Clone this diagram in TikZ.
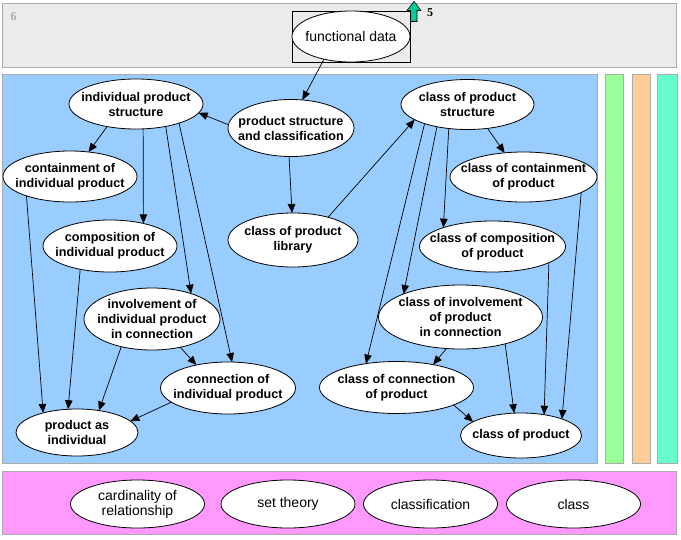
\documentclass[tikz,border=0pt]{standalone}
\usepackage{fontspec}
\setmainfont{Liberation Sans}
\newfontfamily\numfont{Liberation Serif}
\usetikzlibrary{shapes.geometric,arrows.meta}
\definecolor{bandgray}{HTML}{EBEBEB}
\definecolor{bordgray}{HTML}{ABABAB}
\definecolor{areablue}{HTML}{99CCFF}
\definecolor{bargreen}{HTML}{99FF99}
\definecolor{barorange}{HTML}{FFCC99}
\definecolor{barteal}{HTML}{66FFCC}
\definecolor{bandpink}{HTML}{FF99FF}
\definecolor{arrowgreen}{HTML}{00CC99}
\begin{document}
\begin{tikzpicture}[x=1pt,y=-1pt,
  band/.style={draw=bordgray, line width=1pt},
  ell/.style={ellipse, draw=black, fill=white, line width=0.8pt, inner sep=0pt, outer sep=0pt},
  mt/.style={font=\fontsize{12.6}{15}\selectfont\bfseries, align=center, inner sep=0pt},
  lt/.style={font=\fontsize{14}{15}\selectfont, align=center, inner sep=0pt},
  num/.style={font=\numfont\bfseries\fontsize{12}{14}\selectfont, inner sep=0pt},
  edge/.style={draw=black, line width=0.7pt, -{Triangle[length=9pt,width=7.5pt]}}]
\useasboundingbox (0,0) rectangle (681,539);
% bands
\path[band, fill=bandgray] (2.5,3.5) rectangle (676.5,67.5);
\path[band, fill=areablue] (2.5,74.5) rectangle (597.5,463.5);
\path[band, fill=bargreen] (605.5,74.5) rectangle (623.5,463.5);
\path[band, fill=barorange] (632.5,74.5) rectangle (650.5,463.5);
\path[band, fill=barteal] (657.5,74.5) rectangle (677.5,463.5);
\path[band, fill=bandpink] (2.5,471.5) rectangle (676.5,534.5);
% band numbers
\node[num, text=bordgray] (n6) at (13.5,16.5) {6};
\node[num] (n5) at (430,12.5) {5};
\draw[fill=arrowgreen, line width=0.6pt] (414,1.5) -- (421,10.5) -- (417,10.5) -- (417,21.5) -- (410.5,21.5) -- (410.5,10.5) -- (407,10.5) -- cycle;
% functional data
\node[draw=black, line width=0.8pt, minimum width=118pt, minimum height=51pt, inner sep=0pt] (fdbox) at (351,36.5) {};
\node[ell, minimum width=118pt, minimum height=51pt, label={[lt]center:functional data}] (fd) at (351,36.5) {};
% left group
\node[ell, minimum width=134pt, minimum height=50pt, label={[mt]center:{individual product\\structure}}] (ips) at (136,104) {};
\node[ell, minimum width=126pt, minimum height=57pt, label={[mt]center:{product structure\\and classification}}] (psc) at (291,128) {};
\node[ell, minimum width=134pt, minimum height=51pt, label={[mt]center:{containment of\\individual product}}] (cont) at (70,176.5) {};
\node[ell, minimum width=134pt, minimum height=52pt, label={[mt]center:{composition of\\individual product}}] (comp) at (110,246) {};
\node[ell, minimum width=130pt, minimum height=54pt, label={[mt]center:{class of product\\library}}] (clp) at (293,240) {};
\node[ell, minimum width=136pt, minimum height=62pt, label={[mt]center:{involvement of\\individual product\\in connection}}] (inv) at (152,319) {};
\node[ell, minimum width=135pt, minimum height=52pt, label={[mt]center:{connection of\\individual product}}] (conn) at (228,388) {};
\node[ell, minimum width=122pt, minimum height=47pt, label={[mt]center:{product as\\individual}}] (pai) at (77,432.5) {};
% right group
\node[ell, minimum width=133pt, minimum height=50pt, label={[mt]center:{class of product\\structure}}] (cps) at (467.5,104.5) {};
\node[ell, minimum width=147pt, minimum height=50pt, label={[mt]center:{class of containment\\of product}}] (ccont) at (523.5,177) {};
\node[ell, minimum width=146pt, minimum height=51pt, label={[mt]center:{class of composition\\of product}}] (ccomp) at (492.5,246.5) {};
\node[ell, minimum width=164pt, minimum height=64pt, label={[mt]center:{class of involvement\\of product\\in connection}}] (cinv) at (460.5,317) {};
\node[ell, minimum width=154pt, minimum height=52pt, label={[mt]center:{class of connection\\of product}}] (cconn) at (396.5,387.5) {};
\node[ell, minimum width=121pt, minimum height=45pt, label={[mt]center:{class of product}}] (cp) at (521,435.5) {};
% bottom band
\node[ell, minimum width=134pt, minimum height=48pt, label={[lt]center:{cardinality of\\relationship}}] (card) at (137.5,504) {};
\node[ell, minimum width=134pt, minimum height=48pt, label={[lt]center:{set theory}}] (sett) at (288,504) {};
\node[ell, minimum width=134pt, minimum height=48pt, label={[lt]center:{classification}}] (clsf) at (430.5,504) {};
\node[ell, minimum width=134pt, minimum height=48pt, label={[lt]center:{class}}] (cls) at (573.5,504) {};
% edges
\draw[edge] (fd.-140) -- (psc.68);
\draw[edge] (psc.177) -- (ips.-8);
\draw[edge] (psc.-94) -- (clp.92);
\draw[edge] (clp.33) -- (cps.-164);
\draw[edge] (ips.-142) -- (cont.53);
\draw[edge] (ips.-74) -- (comp.34);
\draw[edge] (ips.-37) -- (inv.33);
\draw[edge] (ips.-24.5) -- (conn.81.6);
\draw[edge] (cont.-156.6) -- (pai.150);
\draw[edge] (comp.-142) -- (pai.111);
\draw[edge] (inv.-138) -- (pai.45.6);
\draw[edge] (inv.-45) -- (conn.144.5);
\draw[edge] (conn.-166) -- (pai.12);
\draw[edge] (cps.-50) -- (ccont.128);
\draw[edge] (cps.-128.5) -- (ccomp.159);
\draw[edge] (cps.-144) -- (cinv.158.5);
\draw[edge] (cps.-156.8) -- (cconn.142.7);
\draw[edge] (ccont.-15.8) -- (cp.22.4);
\draw[edge] (ccomp.-16.3) -- (cp.42.8);
\draw[edge] (cinv.-31.6) -- (cp.107);
\draw[edge] (cinv.-114.7) -- (cconn.32.1);
\draw[edge] (cconn.-17.4) -- (cp.164.6);
\end{tikzpicture}
\end{document}
